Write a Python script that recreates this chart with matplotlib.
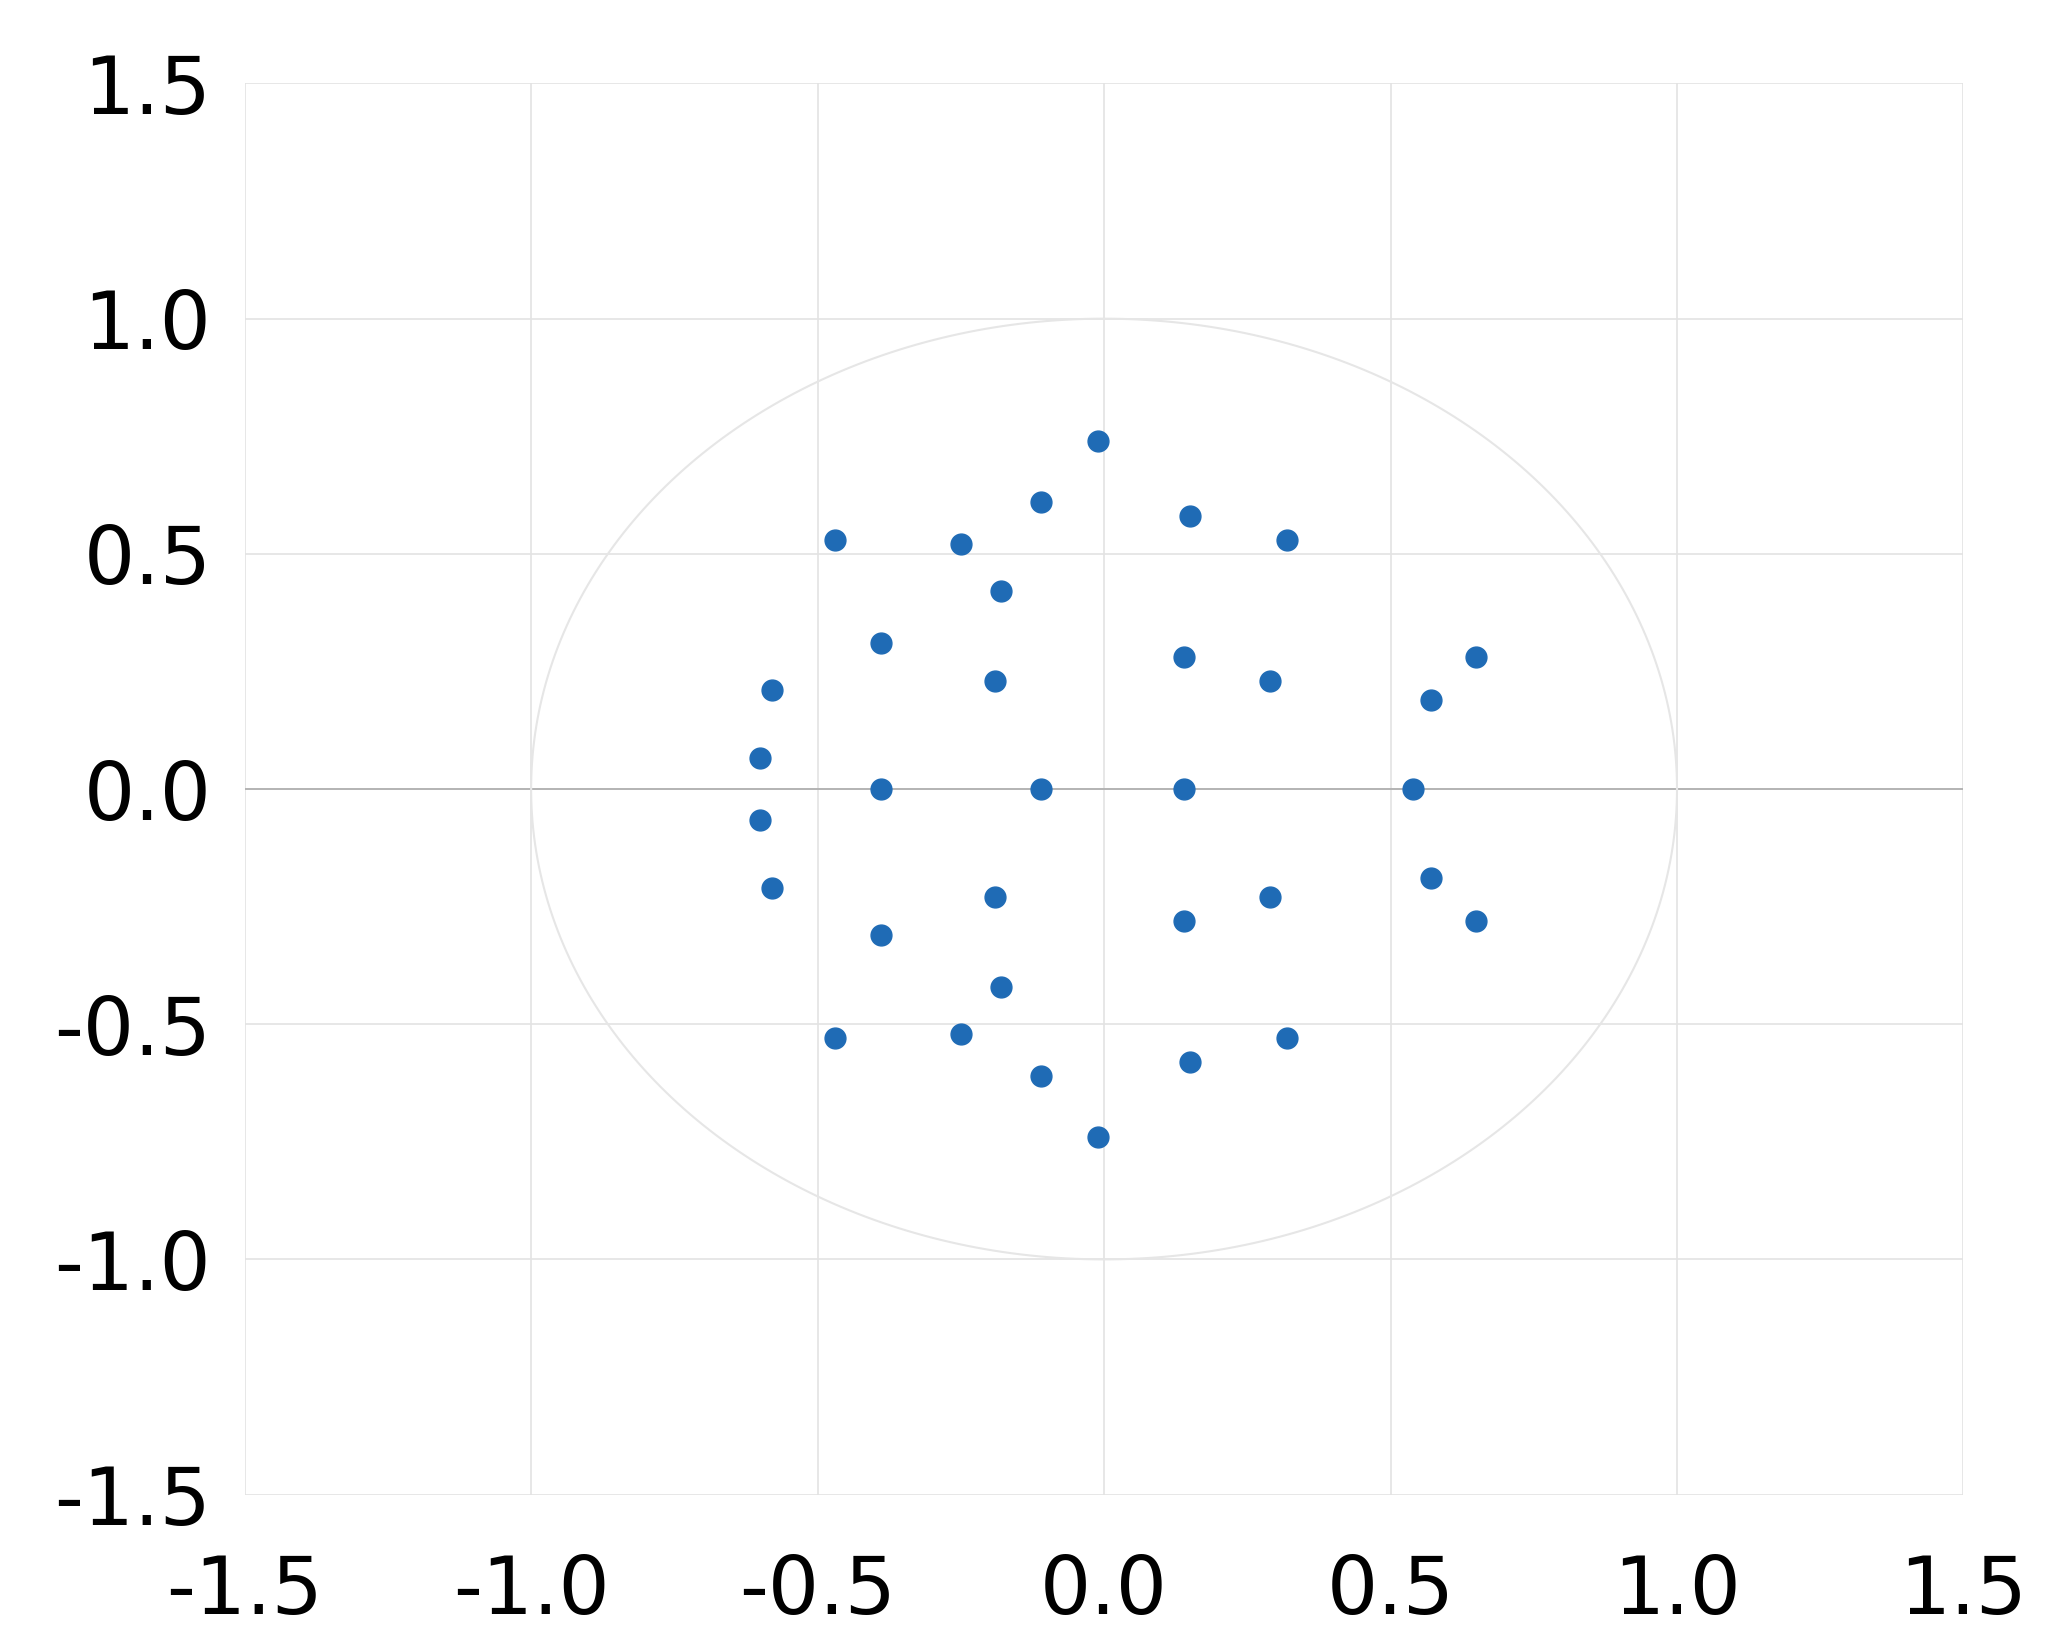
import numpy as np
import matplotlib
matplotlib.use("Agg")
import matplotlib.pyplot as plt

# upper half points (x, y), lower half read separately
x_top = [-0.01, -0.11, 0.15, 0.32, -0.47, -0.25, -0.18, -0.39, -0.19, 0.14, 0.29, 0.65, 0.57, -0.58, -0.60]
y_top = [0.74, 0.61, 0.58, 0.53, 0.53, 0.52, 0.42, 0.31, 0.23, 0.28, 0.23, 0.28, 0.19, 0.21, 0.065]
x_mid = [-0.39, -0.11, 0.14, 0.54]
y_mid = [0.0, 0.0, 0.0, 0.0]
x_bot = [-0.60, -0.58, -0.39, -0.19, -0.18, -0.25, -0.47, -0.11, -0.01, 0.15, 0.32, 0.14, 0.29, 0.57, 0.65]
y_bot = [-0.065, -0.21, -0.31, -0.23, -0.42, -0.52, -0.53, -0.61, -0.74, -0.58, -0.53, -0.28, -0.23, -0.19, -0.28]

ticks = [-1.5, -1.0, -0.5, 0.0, 0.5, 1.0, 1.5]

fig = plt.figure(figsize=(20.56, 16.37), dpi=100)
ax = fig.add_axes([0.119, 0.087, 0.836, 0.862])
ax.set_xlim(-1.5, 1.5)
ax.set_ylim(-1.5, 1.5)

ax.grid(True, color="#e3e3e3", linewidth=1.2)
ax.axhline(0, color="#b0b0b0", linewidth=1.3)
t = np.linspace(0, 2 * np.pi, 400)
ax.plot(np.cos(t), np.sin(t), color="#e6e6e6", linewidth=1.5)

xs = x_top + x_mid + x_bot
ys = y_top + y_mid + y_bot
ax.plot(xs, ys, "o", color="#1f6bb5", markersize=15, linestyle="none")

ax.set_xticks(ticks)
ax.set_yticks(ticks)
ax.set_xticklabels([f"{v:.1f}" for v in ticks])
ax.set_yticklabels([f"{v:.1f}" for v in ticks])
ax.tick_params(length=0, labelsize=58)
ax.tick_params(axis="x", pad=42)
ax.tick_params(axis="y", pad=24)
for s in ax.spines.values():
    s.set_visible(False)

fig.savefig("out.png", dpi=100)
